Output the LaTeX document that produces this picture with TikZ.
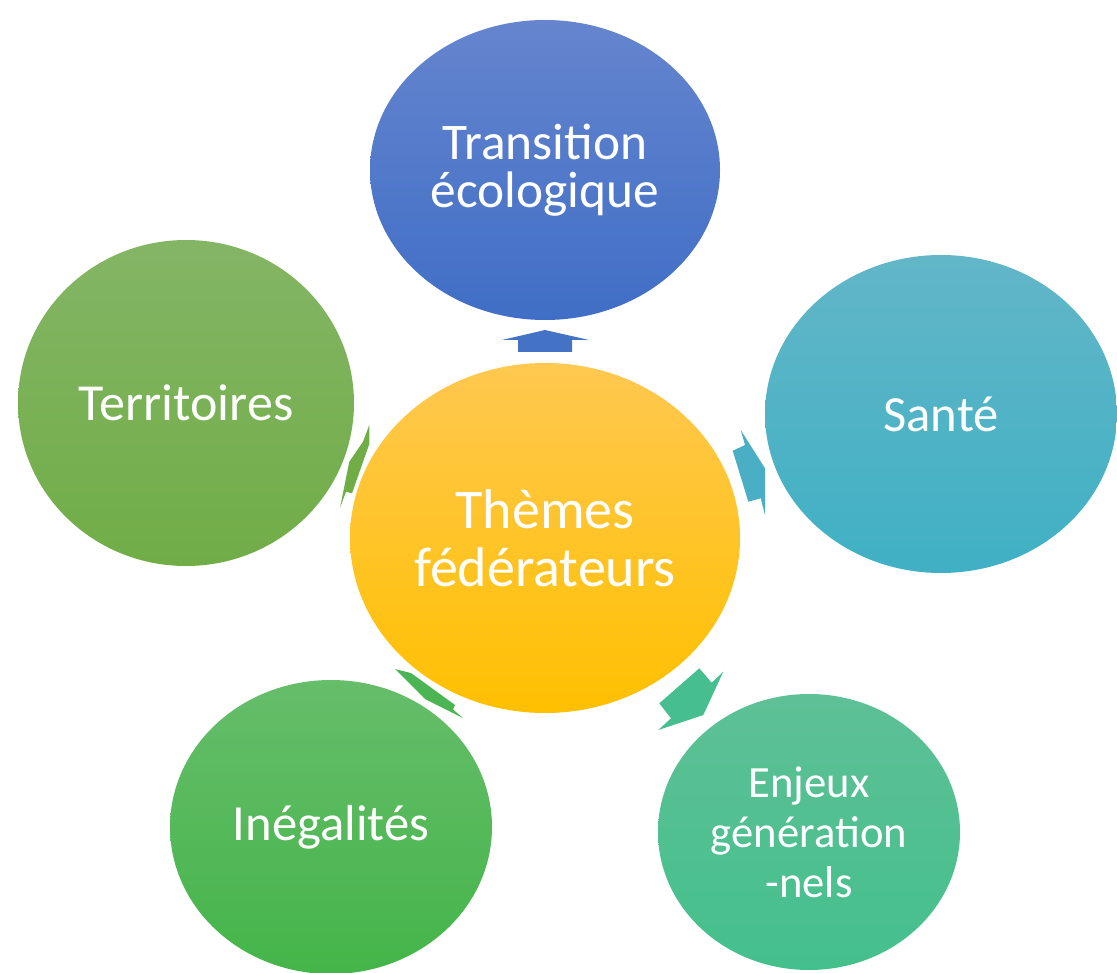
\documentclass[tikz,border=0pt]{standalone}
\usepackage{fontspec}
\setmainfont{Carlito}
\usetikzlibrary{shapes.geometric}
\definecolor{blueT}{RGB}{101,133,206}
\definecolor{blueB}{RGB}{64,110,198}
\definecolor{yelT}{RGB}{255,200,80}
\definecolor{yelB}{RGB}{255,192,0}
\definecolor{tealT}{RGB}{98,182,200}
\definecolor{tealB}{RGB}{64,176,196}
\definecolor{olT}{RGB}{132,181,101}
\definecolor{olB}{RGB}{112,173,71}
\definecolor{grT}{RGB}{102,189,106}
\definecolor{grB}{RGB}{68,181,73}
\definecolor{jaT}{RGB}{94,192,150}
\definecolor{jaB}{RGB}{68,192,140}
\definecolor{arBlue}{RGB}{68,114,196}
\definecolor{arTeal}{RGB}{74,175,196}
\definecolor{arOl}{RGB}{112,173,71}
\definecolor{arGr}{RGB}{76,181,83}
\definecolor{arJa}{RGB}{71,190,143}
\tikzset{
  ell/.style={ellipse, draw=none, inner sep=0pt, text=white, align=center}
}
\begin{document}
\begin{tikzpicture}[x=0.75pt,y=-0.75pt]
\useasboundingbox (0,0) rectangle (1117,973);
% outer ellipses
\node[ell, top color=blueT, bottom color=blueB, minimum width=262.5pt, minimum height=225pt,
  font=\fontsize{38.5}{36}\selectfont] (top) at (545,170) {Transition\\écologique};
\node[ell, top color=tealT, bottom color=tealB, minimum width=264pt, minimum height=238.5pt,
  font=\fontsize{38}{35}\selectfont] (sante) at (941,414) {Santé};
\node[ell, top color=olT, bottom color=olB, minimum width=252pt, minimum height=244.5pt,
  font=\fontsize{39}{35}\selectfont] (terr) at (186,403) {Territoires};
\node[ell, top color=grT, bottom color=grB, minimum width=241.5pt, minimum height=220.5pt,
  font=\fontsize{38}{35}\selectfont] (ineg) at (331,827) {Inégalités};
\node[ell, top color=jaT, bottom color=jaB, minimum width=226.5pt, minimum height=207pt,
  font=\fontsize{33.5}{37.5}\selectfont] (enj) at (809,832) {Enjeux\\génération\\-nels};
% center
\node[ell, top color=yelT, bottom color=yelB, minimum width=292.5pt, minimum height=262.5pt,
  font=\fontsize{42}{43.5}\selectfont] (ctr) at (545,538) {Thèmes\\fédérateurs};
% block arrows
\fill[arBlue] (518,352) -- (518,340) -- (502,340) -- (545,330) -- (589,340) -- (572,340) -- (572,352) -- cycle;
\fill[arTeal] (740.7,430) -- (765,468.3) -- (765,515) -- (760.7,498.3) -- (748.3,501.7) -- (732.7,450.7) -- (745,445) -- cycle;
\fill[arOl] (369.3,425) -- (369.3,444) -- (352,493.3) -- (346,491.7) -- (340,508) -- (349.3,461.7) -- (363,441.7) -- cycle;
\fill[arGr] (395,669) -- (411,673) -- (455,705) -- (453,709.5) -- (463,718) -- (425,699) -- cycle;
\fill[arJa] (699.3,668.3) -- (711.7,682.7) -- (723.3,671.7) -- (703.3,715) -- (658.3,730) -- (671,718.3) -- (659.3,703.3) -- cycle;
\end{tikzpicture}
\end{document}
